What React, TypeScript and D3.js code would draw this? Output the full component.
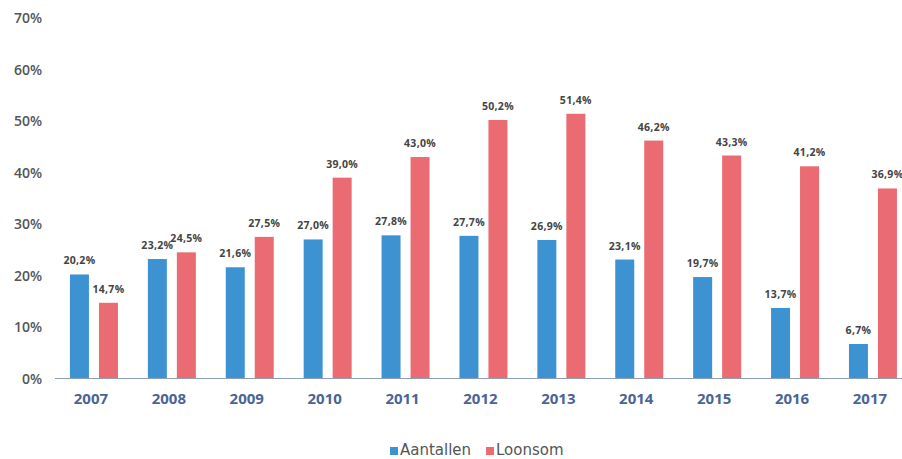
import * as d3 from "d3";

const years = ["2007", "2008", "2009", "2010", "2011", "2012", "2013", "2014", "2015", "2016", "2017"];
const aantallen = [20.2, 23.2, 21.6, 27.0, 27.8, 27.7, 26.9, 23.1, 19.7, 13.7, 6.7];
const loonsom = [14.7, 24.5, 27.5, 39.0, 43.0, 50.2, 51.4, 46.2, 43.3, 41.2, 36.9];
const seriesNames = ["Aantallen", "Loonsom"];
const seriesColors = ["#3d93d1", "#ea6b72"];
const yTicks = [0, 10, 20, 30, 40, 50, 60, 70];

const fmt = (v: number) => v.toFixed(1).replace(".", ",") + "%";

export default function App() {
  const width = 902;
  const height = 459;
  const font = "'Open Sans', 'DejaVu Sans', sans-serif";

  const x = d3.scaleBand<string>().domain(years).range([55, 55 + 77.9 * years.length]).paddingInner(0.384).paddingOuter(0.192);
  const sub = d3.scaleBand<string>().domain(seriesNames).range([0, x.bandwidth()]).paddingInner(0.345);
  const y = d3.scaleLinear().domain([0, 70]).range([378.5, 18]);

  const series = [aantallen, loonsom];

  return (
    <svg width={width} height={height} style={{ position: "absolute", left: 0, top: 0, background: "#fff" }} fontFamily={font}>
      {yTicks.map((t) => (
        <text key={t} x={42} y={y(t) + 5} textAnchor="end" fontSize={14} fontWeight={600} fill="#555">
          {t}%
        </text>
      ))}
      {series.map((vals, si) =>
        vals.map((v, i) => {
          const bx = (x(years[i]) ?? 0) + (sub(seriesNames[si]) ?? 0);
          return (
            <g key={`${si}-${i}`}>
              <rect x={bx} y={y(v)} width={sub.bandwidth()} height={y(0) - y(v)} fill={seriesColors[si]} />
              <text x={bx + sub.bandwidth() / 2} y={y(v) - 10} textAnchor="middle" fontSize={10.5} fontWeight={700} fill="#444" letterSpacing={0.3}>
                {fmt(v)}
              </text>
            </g>
          );
        })
      )}
      <line x1={55} x2={902} y1={y(0)} y2={y(0)} stroke="#8e9db8" strokeWidth={1.2} />
      {years.map((yr) => (
        <text key={yr} x={(x(yr) ?? 0) + x.bandwidth() / 2 - 3} y={404} textAnchor="middle" fontSize={15} fontWeight={700} fill="#4a6496">
          {yr}
        </text>
      ))}
      <g fontFamily="'DejaVu Sans', sans-serif" fontSize={15}>
        <rect x={390} y={447} width={8} height={8} fill={seriesColors[0]} />
        <text x={400} y={455} fill="#555">
          {seriesNames[0]}
        </text>
        <rect x={486} y={447} width={8} height={8} fill={seriesColors[1]} />
        <text x={496} y={455} fill="#555">
          {seriesNames[1]}
        </text>
      </g>
    </svg>
  );
}
